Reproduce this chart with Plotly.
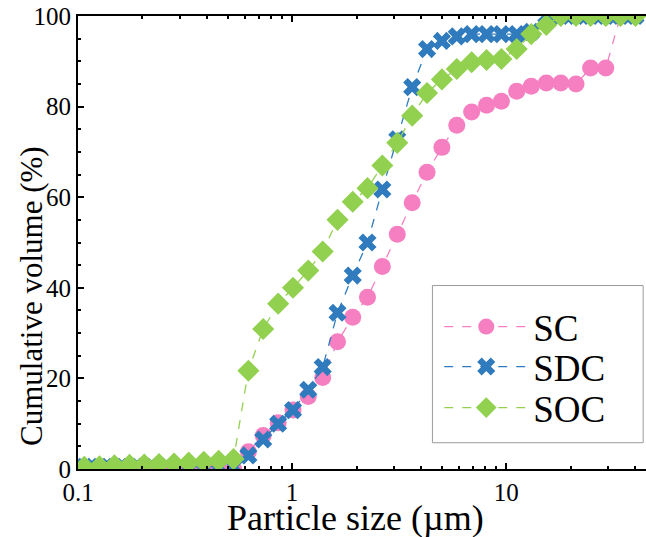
import plotly.graph_objects as go
import math

sizes = [0.107, 0.126, 0.148, 0.174, 0.204, 0.239, 0.281, 0.329, 0.387, 0.454,
         0.533, 0.625, 0.733, 0.861, 1.01, 1.19, 1.39, 1.63, 1.92, 2.25,
         2.64, 3.10, 3.64, 4.27, 5.01, 5.88, 6.90, 8.10, 9.50, 11.2,
         13.1, 15.4, 18.0, 21.2, 24.8, 29.2, 34.2, 40.2]

sc = [0, 0, 0, 0, 0, 0, 0, 0, 0, 0,
      0, 3.8, 7.4, 10.2, 13.0, 16.0, 20.2, 28.1, 33.5, 37.9,
      44.7, 51.8, 58.8, 65.5, 71.0, 75.9, 78.8, 80.3, 81.2, 83.4,
      84.5, 85.2, 85.2, 85.0, 88.5, 88.5, 100, 100]

sdc = [0.5, 0.5, 0.5, 0.5, 0.5, 0.5, 0.5, 0.5, 0.5, 0.5,
       0.5, 3.0, 6.5, 10.0, 13.0, 17.5, 22.5, 34.5, 42.7, 50.0,
       61.7, 72.8, 84.3, 92.7, 94.5, 95.5, 96.0, 96.0, 96.0, 96.0,
       96.5, 100, 100, 100, 100, 100, 100, 100]

soc = [0.5, 0.6, 0.8, 0.9, 1.0, 1.1, 1.2, 1.4, 1.6, 1.8,
       2.2, 21.7, 30.9, 36.5, 40.0, 43.8, 48.0, 55.0, 59.0, 62.0,
       67.0, 72.0, 78.0, 83.0, 86.0, 88.3, 89.8, 90.3, 90.5, 92.7,
       96.0, 98.0, 100, 100, 100, 100, 100, 100]

names = ["SC", "SDC", "SOC"]
colors = ["#F57FC0", "#2F7BBD", "#92D050"]
symbols = ["circle", "x", "diamond"]
msizes = [17, 16, 17]
series = [sc, sdc, soc]
legend_ids = ["legend", "legend2", "legend3"]
legend_y = [0.3135, 0.2252, 0.1347]

FONT = "Liberation Serif"

fig = go.Figure()
for name, ys, col, sym, ms, lg in zip(names, series, colors, symbols, msizes, legend_ids):
    fig.add_trace(go.Scatter(
        x=sizes, y=ys, name=name, mode="lines+markers", legend=lg,
        line=dict(color=col, width=1.3, dash="dash"),
        marker=dict(symbol=sym, size=ms, color=col, line=dict(width=0)),
    ))

legend_common = dict(x=0.636, xanchor="left", yanchor="middle",
                     bgcolor="rgba(0,0,0,0)", borderwidth=0,
                     font=dict(family=FONT, size=37, color="black"),
                     itemwidth=84)

fig.update_layout(
    width=646, height=537,
    margin=dict(l=78, r=0, t=16, b=68),
    paper_bgcolor="white", plot_bgcolor="white",
    font=dict(family=FONT, color="black", size=25),
    showlegend=True,
    legend=dict(y=legend_y[0], **legend_common),
    legend2=dict(y=legend_y[1], **legend_common),
    legend3=dict(y=legend_y[2], **legend_common),
    shapes=[dict(type="rect", xref="paper", yref="paper",
                 x0=0.624, x1=0.995, y0=0.058, y1=0.405,
                 line=dict(color="#9a9a9a", width=1), fillcolor="rgba(0,0,0,0)")],
    annotations=[
        dict(text="Cumulative volume (%)", xref="paper", yref="paper",
             x=-0.081, y=0.382, xanchor="center", yanchor="middle",
             textangle=-90, showarrow=False,
             font=dict(family=FONT, size=31, color="black")),
        dict(text="Particle size (µm)", xref="paper", yref="paper",
             x=0.488, y=-0.109, xanchor="center", yanchor="middle",
             showarrow=False,
             font=dict(family=FONT, size=36, color="black")),
    ],
)

fig.update_xaxes(
    type="log", range=[-1, math.log10(45)],
    tickvals=[0.1, 1, 10], ticktext=["0.1", "1", "10"],
    ticks="inside", ticklen=6, tickwidth=2, tickcolor="black",
    ticklabelstandoff=0,
    minor=dict(ticks="inside", ticklen=3, tickwidth=2, tickcolor="black",
               tickvals=[0.2, 0.3, 0.4, 0.5, 0.6, 0.7, 0.8, 0.9,
                         2, 3, 4, 5, 6, 7, 8, 9, 20, 30, 40]),
    showline=True, linecolor="black", linewidth=2, mirror="allticks",
    showgrid=False, zeroline=False, automargin=False,
    tickfont=dict(family=FONT, size=25),
)
fig.update_yaxes(
    range=[0, 100], tickvals=[0, 20, 40, 60, 80, 100],
    ticks="inside", ticklen=6, tickwidth=2, tickcolor="black",
    minor=dict(ticks="inside", ticklen=3, tickwidth=2, tickcolor="black", dtick=5),
    showline=True, linecolor="black", linewidth=2,
    showgrid=False, zeroline=False, automargin=False,
    tickfont=dict(family=FONT, size=25),
)

fig.write_html("out.html")
